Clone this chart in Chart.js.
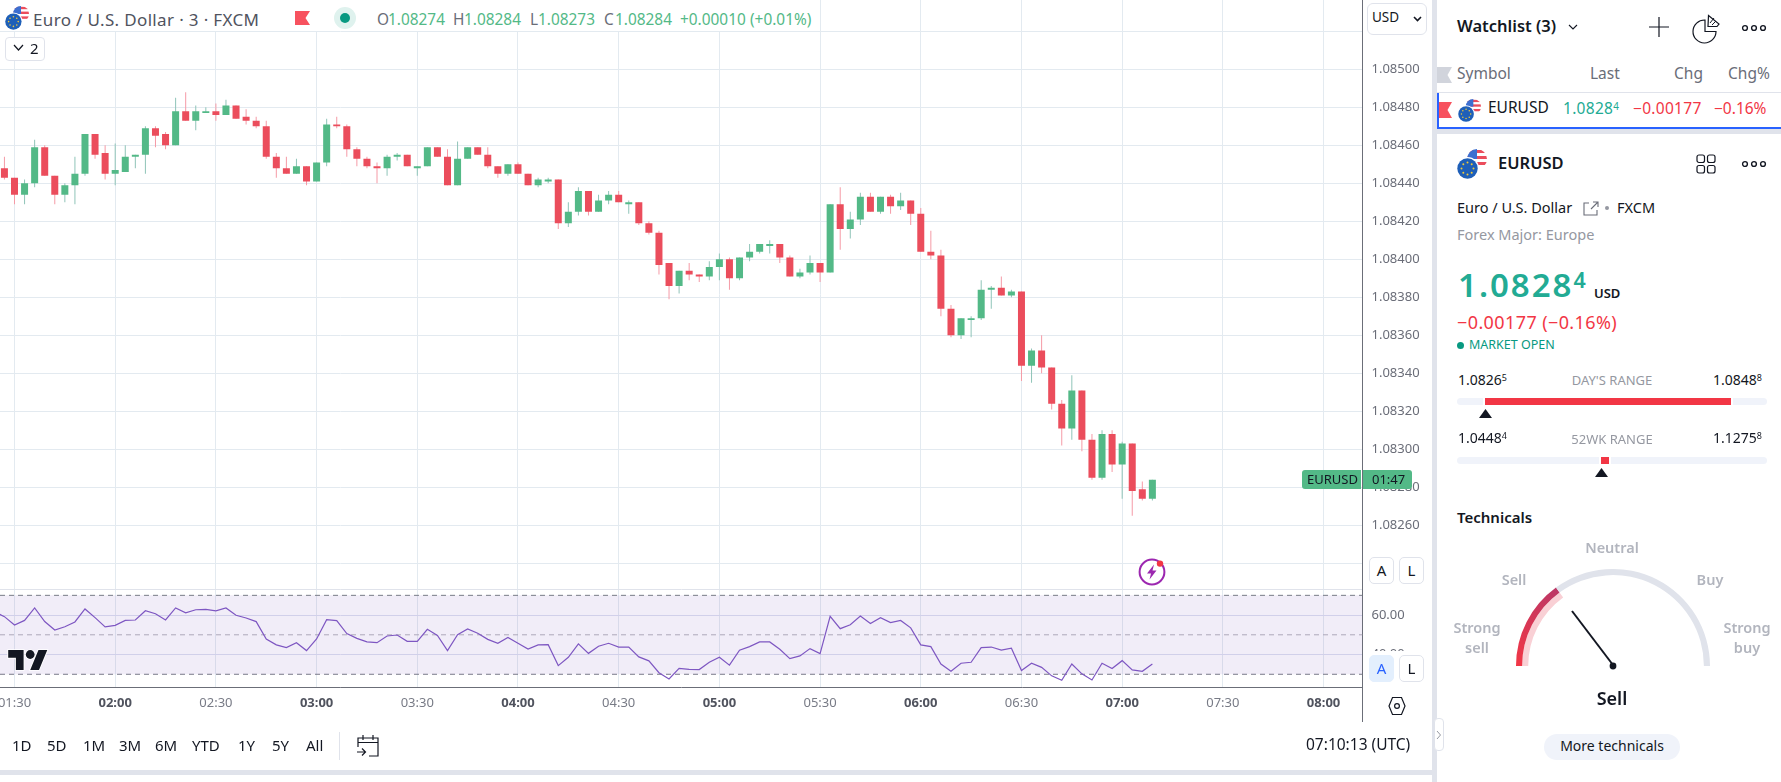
<!DOCTYPE html>
<html>
<head>
<meta charset="utf-8">
<title>EURUSD</title>
<script src="https://cdn.jsdelivr.net/npm/chart.js@4/dist/chart.umd.min.js"></script>
<style>
html, body { margin: 0; padding: 0; background: #fff; overflow: hidden; }
body { width: 1781px; height: 782px; position: relative; font-family: "Noto Sans", sans-serif; color: #131722; }
canvas { position: absolute; display: block; }
.t { position: absolute; white-space: nowrap; line-height: 1; transform: translateY(calc(-50% - 1px)); }
.c { transform: translate(-50%, calc(-50% - 1px)); }
.box { position: absolute; box-sizing: border-box; }
svg { position: absolute; overflow: visible; }
.btn { position: absolute; box-sizing: border-box; background: #fff; border: 1px solid #e0e3eb; border-radius: 4px; }
.g { color: #53b987; }
.k { color: #6a6d78; }
.red { color: #f23645; }
.teal { color: #22ab94; }
.mute { color: #9598a1; }
.soft { color: #b2b5be; font-weight: 600; }
sup { font-size: 64%; line-height: 0; vertical-align: baseline; position: relative; top: -0.42em; }
</style>
</head>
<body>
<svg width="0" height="0">
  <defs>
    <clipPath id="usClip"><circle cx="20" cy="10" r="10"/></clipPath>
    <symbol id="flags" viewBox="0 0 30 30">
      <g clip-path="url(#usClip)">
        <rect x="10" y="0" width="20" height="20" fill="#fff"/>
        <rect x="10" y="1" width="20" height="3" fill="#eb4d5c"/>
        <rect x="10" y="7" width="20" height="3" fill="#eb4d5c"/>
        <rect x="10" y="13" width="20" height="3" fill="#eb4d5c"/>
        <rect x="10" y="0" width="10" height="10" fill="#3d6fd0"/>
      </g>
      <circle cx="10.5" cy="19.5" r="11.5" fill="#fff"/>
      <circle cx="10.5" cy="19.5" r="10.2" fill="#1e5fb8"/>
      <g fill="#f0c93a">
        <circle cx="10.5" cy="13.5" r="1"/><circle cx="10.5" cy="25.5" r="1"/>
        <circle cx="4.5" cy="19.5" r="1"/><circle cx="16.5" cy="19.5" r="1"/>
        <circle cx="6.3" cy="15.3" r="1"/><circle cx="14.7" cy="15.3" r="1"/>
        <circle cx="6.3" cy="23.7" r="1"/><circle cx="14.7" cy="23.7" r="1"/>
      </g>
    </symbol>
  </defs>
</svg>

<canvas id="price-chart" width="1432" height="590" style="left:0;top:0;width:1432px;height:590px"></canvas>
<canvas id="rsi-chart" width="1432" height="132" style="left:0;top:590px;width:1432px;height:132px"></canvas>

<!-- legend strip over the price pane -->
<div class="box" style="left:0;top:0;width:815px;height:31px;background:#fff"></div>
<svg style="left:5px;top:6px" width="24" height="24"><use href="#flags" width="24" height="24"/></svg>
<div class="t" style="left:33px;top:19.5px;font-size:17px;color:#50535e;letter-spacing:.35px">Euro / U.S. Dollar · 3 · FXCM</div>
<svg style="left:295px;top:11px" width="15" height="15"><polygon points="0,0 15,0 10.5,7 15,14 0,14" fill="#f7525f"/></svg>
<div class="box" style="left:334px;top:7px;width:22px;height:22px;border-radius:50%;background:#dff2ee"></div>
<div class="box" style="left:340px;top:13px;width:10px;height:10px;border-radius:50%;background:#089981"></div>
<div class="t k" style="left:377px;top:20.5px;font-size:15.4px">O</div>
<div class="t g" style="left:388px;top:20.5px;font-size:15.4px">1.08274</div>
<div class="t k" style="left:453px;top:20.5px;font-size:15.4px">H</div>
<div class="t g" style="left:464px;top:20.5px;font-size:15.4px">1.08284</div>
<div class="t k" style="left:530px;top:20.5px;font-size:15.4px">L</div>
<div class="t g" style="left:538px;top:20.5px;font-size:15.4px">1.08273</div>
<div class="t k" style="left:604px;top:20.5px;font-size:15.4px">C</div>
<div class="t g" style="left:615px;top:20.5px;font-size:15.4px">1.08284</div>
<div class="t g" style="left:680px;top:20.5px;font-size:15.4px">+0.00010</div>
<div class="t g" style="left:750px;top:20.5px;font-size:15.4px">(+0.01%)</div>

<div class="btn" style="left:5px;top:37px;width:40px;height:24px"></div>
<svg style="left:13px;top:44px" width="12" height="8"><polyline points="1,1 5.5,6 10,1" fill="none" stroke="#131722" stroke-width="1.2"/></svg>
<div class="t" style="left:30px;top:49px;font-size:15px">2</div>

<!-- price scale controls -->
<div class="btn" style="left:1367px;top:3px;width:60px;height:32px;border-radius:6px"></div>
<div class="t" style="left:1372px;top:19px;font-size:13.5px">USD</div>
<svg style="left:1413px;top:16px" width="9" height="6"><polyline points="1,1 4.5,4.5 8,1" fill="none" stroke="#131722" stroke-width="1.6"/></svg>

<div class="box" style="left:1302px;top:470px;width:59px;height:19px;background:#53b987;border-radius:3px 0 0 3px"></div>
<div class="t" style="left:1307px;top:480px;font-size:13px;color:#131722">EURUSD</div>
<div class="box" style="left:1363px;top:470px;width:49px;height:19px;background:#53b987;border-radius:0 3px 3px 0"></div>
<div class="t" style="left:1372px;top:480px;font-size:13px;color:#131722">01:47</div>

<div class="box" style="left:1364px;top:552px;width:67px;height:37px;background:#fff"></div>
<div class="btn" style="left:1369px;top:557px;width:25px;height:27px;border-radius:5px"></div>
<div class="t c" style="left:1381.5px;top:571px;font-size:15px">A</div>
<div class="btn" style="left:1399px;top:557px;width:25px;height:27px;border-radius:5px"></div>
<div class="t c" style="left:1411.5px;top:571px;font-size:15px">L</div>
<div class="box" style="left:1364px;top:651px;width:67px;height:35px;background:#fff"></div>
<div class="btn" style="left:1369px;top:655px;width:25px;height:27px;border-radius:5px;background:#e3effd;border-color:#e3effd"></div>
<div class="t c" style="left:1381.5px;top:669px;font-size:15px;color:#2962ff">A</div>
<div class="btn" style="left:1399px;top:655px;width:25px;height:27px;border-radius:5px"></div>
<div class="t c" style="left:1411.5px;top:669px;font-size:15px">L</div>

<svg style="left:1138px;top:558px" width="28" height="28">
  <circle cx="14" cy="14" r="12.4" fill="#fff" stroke="#9c27b0" stroke-width="2"/>
  <polygon points="16,6.5 9,15.5 13,15.5 11.5,21.5 18.5,12.5 14.5,12.5" fill="#9c27b0"/>
  <circle cx="22" cy="5.6" r="3.2" fill="#f23645"/>
</svg>

<svg style="left:8px;top:649px" width="40" height="22" viewBox="0 0 36 20">
  <g fill="#131722" stroke="#fff" stroke-width="1.6" paint-order="stroke">
    <path d="M14 19H7V8H0V1h14v18zM28 19h-8l7.5-18h8L28 19z"/>
    <circle cx="20" cy="5" r="4"/>
  </g>
</svg>

<!-- time axis corner -->
<div class="box" style="left:1362px;top:687px;width:1px;height:35px;background:#6b6e78"></div>
<svg style="left:1388px;top:696px" width="18" height="20">
  <polygon points="4.5,1.5 13.5,1.5 17,10 13.5,18.5 4.5,18.5 1,10" fill="none" stroke="#131722" stroke-width="1.2"/>
  <circle cx="9" cy="10" r="2.4" fill="none" stroke="#131722" stroke-width="1.2"/>
</svg>

<!-- bottom toolbar -->
<div class="t" style="left:12px;top:746px;font-size:15px">1D</div>
<div class="t" style="left:47px;top:746px;font-size:15px">5D</div>
<div class="t" style="left:83px;top:746px;font-size:15px">1M</div>
<div class="t" style="left:119px;top:746px;font-size:15px">3M</div>
<div class="t" style="left:155px;top:746px;font-size:15px">6M</div>
<div class="t" style="left:192px;top:746px;font-size:15px">YTD</div>
<div class="t" style="left:238px;top:746px;font-size:15px">1Y</div>
<div class="t" style="left:272px;top:746px;font-size:15px">5Y</div>
<div class="t" style="left:306px;top:746px;font-size:15px">All</div>
<div class="box" style="left:339px;top:732px;width:1px;height:28px;background:#e0e3eb"></div>
<svg style="left:356px;top:733px" width="24" height="24" fill="none" stroke="#131722" stroke-width="1.2">
  <path d="M2 14V5h20v18h-9M2 9.5h20M7 2v5M17 2v5M1 19h8M6 15.5l3.5 3.5L6 22.5"/>
</svg>
<div class="t" style="left:1306px;top:746px;font-size:15.5px">07:10:13 (UTC)</div>

<div class="box" style="left:0;top:770px;width:1432px;height:5px;background:#e0e3eb"></div>
<div class="box" style="left:1432px;top:0;width:5px;height:782px;background:#e0e3eb"></div>
<div class="box" style="left:1434px;top:718px;width:10px;height:33px;background:#fff;border:1px solid #e0e3eb;border-radius:4px"></div>
<svg style="left:1436px;top:730px" width="6" height="10"><polyline points="1,1 4.5,5 1,9" fill="none" stroke="#9598a1" stroke-width="1"/></svg>

<!-- watchlist -->
<div class="t" style="left:1457px;top:27px;font-size:16.5px;font-weight:600">Watchlist (3)</div>
<svg style="left:1568px;top:24px" width="10" height="7"><polyline points="1,1 5,5 9,1" fill="none" stroke="#131722" stroke-width="1.1"/></svg>
<svg style="left:1649px;top:17px" width="20" height="20"><path d="M10 0v20M0 10h20" stroke="#131722" stroke-width="1.2"/></svg>
<svg style="left:1693px;top:14px" width="27" height="27" fill="none" stroke="#131722" stroke-width="1.2">
  <path d="M12 6A11.5 11.5 0 1 0 23 17.5H12z"/>
  <path d="M15.5 1.5l10.5 8.5-2 2.5H15z"/>
  <path d="M17 9l4-5M19 11l4-4" stroke-width="1"/>
</svg>
<svg style="left:1742px;top:24px" width="24" height="8" fill="none" stroke="#131722" stroke-width="1.4">
  <circle cx="3" cy="4" r="2.4"/><circle cx="12" cy="4" r="2.4"/><circle cx="21" cy="4" r="2.4"/>
</svg>
<svg style="left:1437px;top:67px" width="15" height="16"><polygon points="0,0 15,0 10.5,8 15,16 0,16" fill="#d1d4dc"/></svg>
<div class="t k" style="left:1457px;top:75px;font-size:15.5px">Symbol</div>
<div class="t k" style="left:1590px;top:75px;font-size:15.5px">Last</div>
<div class="t k" style="left:1674px;top:75px;font-size:15.5px">Chg</div>
<div class="t k" style="left:1728px;top:75px;font-size:15.5px">Chg%</div>
<div class="box" style="left:1437px;top:92px;width:344px;height:1px;background:#e0e3eb"></div>
<div class="box" style="left:1437px;top:93px;width:2px;height:35px;background:#2962ff"></div>
<div class="box" style="left:1437px;top:127px;width:344px;height:2px;background:#2962ff"></div>
<svg style="left:1439px;top:102px" width="13" height="16"><polygon points="0,0 13,0 8.5,8 13,16 0,16" fill="#f7525f"/></svg>
<svg style="left:1458px;top:99px" width="23" height="23"><use href="#flags" width="23" height="23"/></svg>
<div class="t" style="left:1488px;top:109px;font-size:15.5px">EURUSD</div>
<div class="t teal" style="left:1563px;top:110px;font-size:15.5px;letter-spacing:.3px">1.0828<sup>4</sup></div>
<div class="t red" style="left:1633px;top:110px;font-size:15.5px;letter-spacing:.3px">−0.00177</div>
<div class="t red" style="left:1714px;top:110px;font-size:15.5px">−0.16%</div>
<div class="box" style="left:1437px;top:129px;width:344px;height:5px;background:#e0e3eb"></div>

<!-- symbol details -->
<svg style="left:1457px;top:149px" width="30" height="30"><use href="#flags" width="30" height="30"/></svg>
<div class="t" style="left:1498px;top:164px;font-size:16.5px;font-weight:600">EURUSD</div>
<svg style="left:1696px;top:154px" width="20" height="20" fill="none" stroke="#131722" stroke-width="1.2">
  <rect x="1" y="1" width="7.5" height="7.5" rx="2"/><rect x="11.5" y="1" width="7.5" height="7.5" rx="2"/>
  <rect x="1" y="11.5" width="7.5" height="7.5" rx="2"/><rect x="11.5" y="11.5" width="7.5" height="7.5" rx="2"/>
</svg>
<svg style="left:1742px;top:160px" width="24" height="8" fill="none" stroke="#131722" stroke-width="1.4">
  <circle cx="3" cy="4" r="2.4"/><circle cx="12" cy="4" r="2.4"/><circle cx="21" cy="4" r="2.4"/>
</svg>
<div class="t" style="left:1457px;top:208px;font-size:14.5px">Euro / U.S. Dollar</div>
<svg style="left:1583px;top:201px" width="16" height="15" fill="none" stroke="#6a6d78" stroke-width="1.1">
  <path d="M6 2H1v12h13V9M8 8L15 1M10 1h5v5"/>
</svg>
<div class="box" style="left:1605px;top:206px;width:4px;height:4px;border-radius:50%;background:#9598a1"></div>
<div class="t" style="left:1617px;top:208px;font-size:14.5px">FXCM</div>
<div class="t mute" style="left:1457px;top:235px;font-size:14.5px">Forex Major: Europe</div>
<div class="t teal" style="left:1458px;top:285px;font-size:33px;font-weight:600;letter-spacing:2px">1.0828<sup style="font-size:65%;letter-spacing:0">4</sup></div>
<div class="t" style="left:1594px;top:294px;font-size:13px;font-weight:600">USD</div>
<div class="t red" style="left:1457px;top:323px;font-size:18px;letter-spacing:.4px">−0.00177 (−0.16%)</div>
<div class="box" style="left:1457px;top:342px;width:7px;height:7px;border-radius:50%;background:#089981"></div>
<div class="t" style="left:1469px;top:346px;font-size:12.5px;color:#089981">MARKET OPEN</div>

<div class="t" style="left:1458px;top:381px;font-size:14px">1.0826<sup>5</sup></div>
<div class="t c mute" style="left:1612px;top:381px;font-size:13px">DAY'S RANGE</div>
<div class="t" style="left:1713px;top:381px;font-size:14px">1.0848<sup>8</sup></div>
<div class="box" style="left:1457px;top:398px;width:310px;height:7px;border-radius:4px;background:#f0f3fa"></div>
<div class="box" style="left:1483px;top:398px;width:250px;height:7px;background:#fff"></div>
<div class="box" style="left:1485px;top:398px;width:246px;height:7px;background:#f23645"></div>
<svg style="left:1479px;top:409px" width="13" height="9"><polygon points="6.5,0 13,9 0,9" fill="#131722"/></svg>

<div class="t" style="left:1458px;top:439px;font-size:14px">1.0448<sup>4</sup></div>
<div class="t c mute" style="left:1612px;top:440px;font-size:13px">52WK RANGE</div>
<div class="t" style="left:1713px;top:439px;font-size:14px">1.1275<sup>8</sup></div>
<div class="box" style="left:1457px;top:457px;width:310px;height:7px;border-radius:4px;background:#f0f3fa"></div>
<div class="box" style="left:1599px;top:457px;width:12px;height:7px;background:#fff"></div>
<div class="box" style="left:1601px;top:457px;width:8px;height:7px;background:#f23645"></div>
<svg style="left:1595px;top:468px" width="13" height="9"><polygon points="6.5,0 13,9 0,9" fill="#131722"/></svg>

<div class="t" style="left:1457px;top:518px;font-size:15px;font-weight:600">Technicals</div>

<canvas id="gauge-chart" width="194" height="97" style="left:1516px;top:569px;width:194px;height:97px"></canvas>
<svg style="left:1560px;top:600px" width="60" height="72">
  <line x1="12" y1="11" x2="53" y2="65" stroke="#131722" stroke-width="2"/>
  <circle cx="53" cy="66" r="3.4" fill="#131722"/>
</svg>
<div class="t c soft" style="left:1612px;top:548px;font-size:14.5px">Neutral</div>
<div class="t c soft" style="left:1514px;top:580px;font-size:14.5px">Sell</div>
<div class="t c soft" style="left:1710px;top:580px;font-size:14.5px">Buy</div>
<div class="t c soft" style="left:1477px;top:628px;font-size:14.5px">Strong</div>
<div class="t c soft" style="left:1477px;top:648px;font-size:14.5px">sell</div>
<div class="t c soft" style="left:1747px;top:628px;font-size:14.5px">Strong</div>
<div class="t c soft" style="left:1747px;top:648px;font-size:14.5px">buy</div>
<div class="t c" style="left:1612px;top:699px;font-size:18px;font-weight:600">Sell</div>
<div class="box" style="left:1544px;top:734px;width:136px;height:26px;border-radius:13px;background:#f0f3fa"></div>
<div class="t c" style="left:1612px;top:747px;font-size:14px">More technicals</div>

<script>
// minutes since midnight of each 3 minute bar, 01:27 to 07:09
const barTimes = [87,90,93,96,99,102,105,108,111,114,117,120,123,126,129,132,135,138,141,144,
    147,150,153,156,159,162,165,168,171,174,177,180,183,186,189,192,195,198,201,204,
    207,210,213,216,219,222,225,228,231,234,237,240,243,246,249,252,255,258,261,264,
    267,270,273,276,279,282,285,288,291,294,297,300,303,306,309,312,315,318,321,324,
    327,330,333,336,339,342,345,348,351,354,357,360,363,366,369,372,375,378,381,384,
    387,390,393,396,399,402,405,408,411,414,417,420,423,426,429];

const opens = [1.08448,1.08443,1.08434,1.08440,1.08459,1.08444,1.08434,1.08439,1.08445,1.08466,
    1.08456,1.08445,1.08446,1.08454,1.08455,1.08469,1.08466,1.08460,1.08478,1.08473,
    1.08477,1.08478,1.08476,1.08481,1.08475,1.08473,1.08470,1.08454,1.08448,1.08445,
    1.08449,1.08441,1.08451,1.08471,1.08470,1.08458,1.08453,1.08449,1.08448,1.08454,
    1.08455,1.08448,1.08449,1.08459,1.08454,1.08439,1.08453,1.08459,1.08455,1.08449,
    1.08445,1.08450,1.08445,1.08439,1.08441,1.08442,1.08419,1.08425,1.08436,1.08425,
    1.08431,1.08434,1.08429,1.08430,1.08419,1.08414,1.08398,1.08386,1.08394,1.08392,
    1.08391,1.08396,1.08400,1.08390,1.08401,1.08404,1.08407,1.08408,1.08401,1.08391,
    1.08393,1.08398,1.08393,1.08429,1.08416,1.08421,1.08433,1.08425,1.08433,1.08428,
    1.08431,1.08424,1.08404,1.08402,1.08374,1.08360,1.08368,1.08369,1.08384,1.08385,
    1.08381,1.08383,1.08344,1.08352,1.08343,1.08324,1.08311,1.08331,1.08305,1.08285,
    1.08308,1.08292,1.08303,1.08279,1.08274];

const highs = [1.08454,1.08443,1.08442,1.08463,1.08460,1.08444,1.08440,1.08454,1.08466,1.08466,
    1.08460,1.08461,1.08460,1.08455,1.08470,1.08470,1.08467,1.08485,1.08488,1.08481,
    1.08480,1.08482,1.08484,1.08481,1.08479,1.08475,1.08473,1.08456,1.08454,1.08453,
    1.08449,1.08451,1.08474,1.08475,1.08471,1.08459,1.08454,1.08451,1.08455,1.08456,
    1.08455,1.08449,1.08459,1.08459,1.08458,1.08462,1.08459,1.08459,1.08459,1.08449,
    1.08450,1.08451,1.08445,1.08443,1.08443,1.08442,1.08430,1.08438,1.08436,1.08434,
    1.08436,1.08436,1.08431,1.08430,1.08420,1.08415,1.08398,1.08394,1.08398,1.08392,
    1.08399,1.08403,1.08401,1.08401,1.08408,1.08408,1.08410,1.08408,1.08402,1.08395,
    1.08402,1.08398,1.08429,1.08438,1.08425,1.08435,1.08435,1.08433,1.08434,1.08435,
    1.08431,1.08427,1.08415,1.08405,1.08376,1.08369,1.08370,1.08389,1.08386,1.08391,
    1.08384,1.08383,1.08353,1.08360,1.08343,1.08326,1.08339,1.08331,1.08308,1.08310,
    1.08310,1.08304,1.08303,1.08283,1.08284];

const lows = [1.08442,1.08429,1.08429,1.08438,1.08444,1.08429,1.08430,1.08429,1.08444,1.08453,
    1.08442,1.08439,1.08446,1.08448,1.08445,1.08459,1.08458,1.08460,1.08473,1.08468,
    1.08477,1.08473,1.08476,1.08474,1.08471,1.08469,1.08453,1.08443,1.08445,1.08445,
    1.08439,1.08441,1.08449,1.08469,1.08454,1.08449,1.08448,1.08440,1.08444,1.08452,
    1.08449,1.08444,1.08449,1.08454,1.08439,1.08439,1.08453,1.08455,1.08448,1.08443,
    1.08444,1.08445,1.08439,1.08438,1.08440,1.08416,1.08417,1.08423,1.08423,1.08425,
    1.08429,1.08430,1.08424,1.08418,1.08413,1.08392,1.08379,1.08382,1.08389,1.08388,
    1.08389,1.08389,1.08384,1.08389,1.08399,1.08403,1.08403,1.08398,1.08391,1.08390,
    1.08392,1.08388,1.08393,1.08405,1.08411,1.08418,1.08425,1.08424,1.08424,1.08426,
    1.08418,1.08404,1.08400,1.08370,1.08359,1.08358,1.08359,1.08368,1.08374,1.08381,
    1.08380,1.08336,1.08335,1.08340,1.08321,1.08302,1.08305,1.08299,1.08284,1.08284,
    1.08288,1.08274,1.08265,1.08273,1.08273];

const closes = [1.08443,1.08434,1.08440,1.08459,1.08444,1.08434,1.08439,1.08445,1.08466,1.08455,
    1.08445,1.08447,1.08454,1.08455,1.08469,1.08465,1.08460,1.08478,1.08473,1.08478,
    1.08478,1.08476,1.08481,1.08474,1.08473,1.08470,1.08454,1.08448,1.08445,1.08449,
    1.08441,1.08451,1.08471,1.08470,1.08458,1.08453,1.08449,1.08448,1.08454,1.08455,
    1.08449,1.08449,1.08459,1.08454,1.08439,1.08453,1.08459,1.08455,1.08449,1.08445,
    1.08450,1.08445,1.08439,1.08442,1.08442,1.08419,1.08425,1.08436,1.08425,1.08431,
    1.08434,1.08430,1.08430,1.08419,1.08414,1.08397,1.08386,1.08394,1.08392,1.08391,
    1.08396,1.08400,1.08390,1.08401,1.08404,1.08408,1.08408,1.08401,1.08391,1.08393,
    1.08398,1.08393,1.08429,1.08416,1.08421,1.08433,1.08425,1.08433,1.08428,1.08431,
    1.08424,1.08404,1.08402,1.08374,1.08360,1.08369,1.08369,1.08384,1.08385,1.08381,
    1.08383,1.08344,1.08352,1.08343,1.08324,1.08311,1.08331,1.08305,1.08285,1.08308,
    1.08292,1.08303,1.08278,1.08274,1.08284];

// first value belongs to 01:24, just off the left edge
const rsiTimes = [84].concat(barTimes);
const rsiValues = [61.7,59.2,55.0,57.3,63.6,56.7,52.4,54.1,56.5,63.1,58.7,
    54.0,54.8,57.3,57.5,62.2,60.7,57.5,63.6,61.1,62.7,
    62.9,62.1,63.6,59.9,58.5,56.7,47.9,44.9,43.5,46.0,
    42.0,47.9,57.7,57.2,50.6,48.2,46.4,46.0,49.4,49.9,
    46.7,46.7,52.8,49.7,42.0,50.1,53.0,50.8,47.7,45.7,
    48.6,45.7,42.8,44.9,45.0,34.4,38.6,45.4,40.6,44.2,
    45.7,43.8,43.8,38.8,36.8,30.8,27.6,33.0,32.5,32.4,
    36.1,38.6,34.6,42.2,44.0,46.4,46.4,42.7,37.9,39.3,
    43.0,40.5,59.4,53.1,55.1,59.5,55.7,58.7,56.2,57.3,
    53.5,44.9,44.0,35.2,31.5,35.6,36.1,43.5,43.8,42.2,
    43.2,31.9,35.6,33.5,29.2,27.0,35.2,30.2,27.1,35.6,
    32.9,36.9,32.2,31.5,35.2];
const rsiLevels = [70, 50, 30];

const gaugeValues = [30, 70];

const UP = '#53b987';
const DOWN = '#eb4d5c';
const UP_WICK = '#8fc4b8';
const DOWN_WICK = '#f59aa6';
const GRID = '#e3eaf0';
const AXIS = '#6b6e78';
const FONT = '"Noto Sans", sans-serif';

const timeMin = 85.68;
const timeMax = 491.6;

function isUp(i) {
    return closes[i] >= opens[i];
}

function isHour(ctx) {
    return ctx.tick && ctx.tick.value % 60 === 0;
}

function timeLabel(value) {
    const h = Math.floor(value / 60);
    const m = value % 60;
    return String(h).padStart(2, '0') + ':' + String(m).padStart(2, '0');
}

// the price and rsi panes have to line up to the pixel, so no automatic margins
function fitPriceScale(scale) {
    scale.width = 69.5;
    scale.paddingTop = 0;
    scale.paddingBottom = 0;
}

function dropPadding(scale) {
    scale.paddingLeft = 0;
    scale.paddingRight = 0;
}

new Chart(document.getElementById('price-chart').getContext('2d'), {
    type: 'bar',
    data: {
        datasets: [
            {
                label: 'Wicks',
                data: barTimes.map((t, i) => ({ x: t, y: [lows[i], highs[i]] })),
                backgroundColor: barTimes.map((t, i) => isUp(i) ? UP_WICK : DOWN_WICK),
                barThickness: 1,
                inflateAmount: 0,
                grouped: false,
                order: 2
            },
            {
                label: 'EURUSD',
                data: barTimes.map((t, i) => ({ x: t, y: [opens[i], closes[i]] })),
                backgroundColor: barTimes.map((t, i) => isUp(i) ? UP : DOWN),
                barThickness: 7,
                inflateAmount: 0,
                grouped: false,
                order: 1
            }
        ]
    },
    options: {
        responsive: false,
        animation: false,
        events: [],
        layout: { padding: 0 },
        plugins: { legend: { display: false }, tooltip: { enabled: false } },
        scales: {
            x: {
                type: 'linear',
                offset: false,
                min: timeMin,
                max: timeMax,
                afterFit: function (scale) { dropPadding(scale); scale.height = 0.5; },
                ticks: { display: false, stepSize: 30, includeBounds: false },
                grid: { color: GRID, drawTicks: false, offset: false },
                border: { color: '#e0e3eb' }
            },
            y: {
                position: 'right',
                min: 1.082262,
                max: 1.085365,
                afterFit: fitPriceScale,
                ticks: {
                    stepSize: 0.0002,
                    includeBounds: false,
                    padding: 9,
                    color: '#6a6d78',
                    font: { family: FONT, size: 13 },
                    callback: function (value) { return value.toFixed(5); }
                },
                grid: { color: GRID, drawTicks: false },
                border: { color: AXIS }
            }
        }
    }
});

new Chart(document.getElementById('rsi-chart').getContext('2d'), {
    type: 'line',
    data: {
        datasets: [
            {
                label: 'RSI',
                data: rsiTimes.map((t, i) => ({ x: t, y: rsiValues[i] })),
                borderColor: '#7e57c2',
                borderWidth: 1.2,
                pointRadius: 0,
                tension: 0,
                fill: false
            },
            {
                label: 'Upper',
                data: [{ x: timeMin, y: rsiLevels[0] }, { x: timeMax, y: rsiLevels[0] }],
                borderColor: '#787b86',
                borderWidth: 1,
                borderDash: [5, 4],
                pointRadius: 0,
                fill: { target: 3, above: 'rgba(126,87,194,0.11)', below: 'rgba(126,87,194,0.11)' }
            },
            {
                label: 'Middle',
                data: [{ x: timeMin, y: rsiLevels[1] }, { x: timeMax, y: rsiLevels[1] }],
                borderColor: '#b2b1ba',
                borderWidth: 1,
                borderDash: [5, 4],
                pointRadius: 0,
                fill: false
            },
            {
                label: 'Lower',
                data: [{ x: timeMin, y: rsiLevels[2] }, { x: timeMax, y: rsiLevels[2] }],
                borderColor: '#787b86',
                borderWidth: 1,
                borderDash: [5, 4],
                pointRadius: 0,
                fill: false
            }
        ]
    },
    options: {
        responsive: false,
        animation: false,
        events: [],
        layout: { padding: 0 },
        plugins: { legend: { display: false }, tooltip: { enabled: false } },
        scales: {
            x: {
                type: 'linear',
                min: timeMin,
                max: timeMax,
                afterFit: function (scale) { dropPadding(scale); scale.height = 34.7; },
                ticks: {
                    stepSize: 30,
                    includeBounds: false,
                    autoSkip: false,
                    maxRotation: 0,
                    padding: 8,
                    color: function (ctx) { return isHour(ctx) ? '#50535e' : '#787b86'; },
                    font: function (ctx) {
                        return { family: FONT, size: 13, weight: isHour(ctx) ? 'bold' : 'normal' };
                    },
                    callback: timeLabel
                },
                grid: { color: GRID, drawTicks: false },
                border: { color: AXIS }
            },
            y: {
                position: 'right',
                min: 23.4,
                max: 72.7,
                afterFit: fitPriceScale,
                ticks: {
                    stepSize: 20,
                    includeBounds: false,
                    padding: 9,
                    color: '#6a6d78',
                    font: { family: FONT, size: 13 },
                    callback: function (value) { return value.toFixed(2); }
                },
                grid: { color: '#dcdff0', drawTicks: false },
                border: { color: AXIS }
            }
        }
    }
});

const gaugeCtx = document.getElementById('gauge-chart').getContext('2d');
const gaugeRed = gaugeCtx.createLinearGradient(0, 97, 60, 15);
gaugeRed.addColorStop(0, '#f23645');
gaugeRed.addColorStop(1, '#b2386c');

new Chart(gaugeCtx, {
    type: 'doughnut',
    data: {
        labels: ['Sell', 'Rest'],
        datasets: [
            { data: gaugeValues, backgroundColor: [gaugeRed, '#e0e3eb'], borderWidth: 0, hoverOffset: 0 },
            { data: gaugeValues, backgroundColor: ['#f9d0d5', 'rgba(0,0,0,0)'], borderWidth: 0, hoverOffset: 0 }
        ]
    },
    options: {
        responsive: false,
        animation: false,
        events: [],
        rotation: -90,
        circumference: 180,
        cutout: '87.4%',
        layout: { padding: 0 },
        plugins: { legend: { display: false }, tooltip: { enabled: false } }
    }
});
</script>
</body>
</html>
